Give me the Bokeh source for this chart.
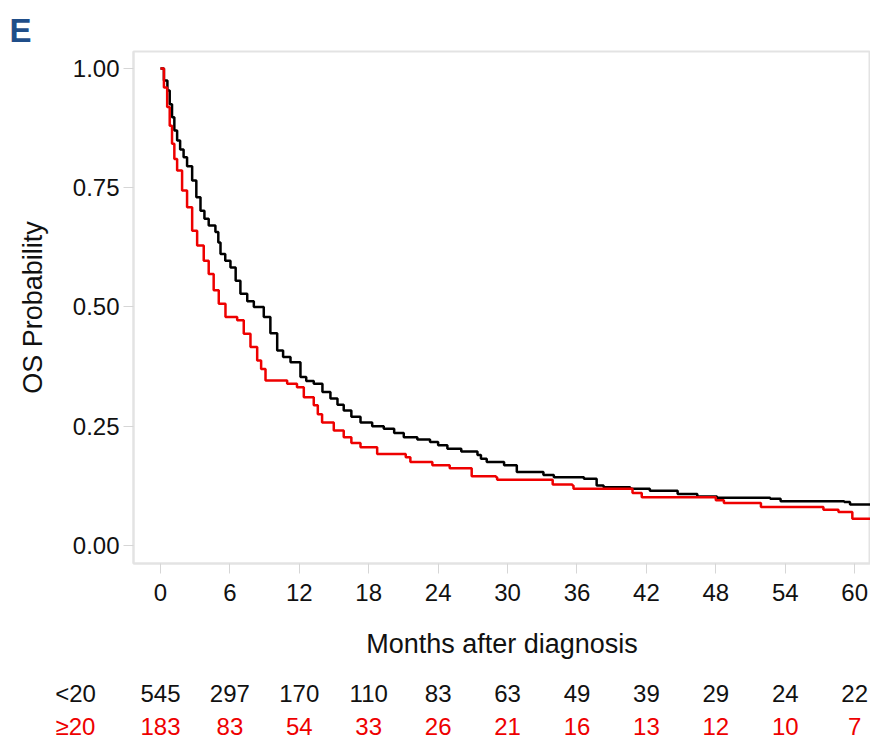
from bokeh.plotting import figure
from bokeh.layouts import column, row
from bokeh.models import Range1d, FixedTicker, NumeralTickFormatter
from bokeh.core.properties import value
from bokeh.embed import file_html
from bokeh.resources import INLINE

FONT = "Liberation Sans"

# ---- data ----
black_t = [0, 0.3, 0.6, 0.8, 1.0, 1.2, 1.44, 1.7, 2.0, 2.3, 2.74, 3.1, 3.46, 3.8, 4.17,
           4.75, 5.0, 5.19, 5.6, 6.05, 6.5, 6.91, 7.5, 8.07, 8.93, 9.5, 10.09, 10.6, 11.24,
           12.1, 12.6, 13.25, 14.0, 14.69, 15.3, 15.84, 16.5, 17.29, 18.3, 19.3, 20.2, 21.03,
           22.2, 23.3, 24.0, 24.8, 26.0, 27.4, 27.7, 28.2, 29.7, 30.8, 33.1, 34.0, 36.6, 37.7,
           38.3, 40.6, 42.3, 44.7, 46.4, 48.1, 52.7, 53.6, 59.1, 59.6, 61.4]
black_s = [1.0, 0.975, 0.954, 0.925, 0.898, 0.87, 0.849, 0.83, 0.814, 0.795, 0.765, 0.73,
           0.702, 0.685, 0.671, 0.657, 0.635, 0.611, 0.597, 0.583, 0.555, 0.528, 0.512, 0.50,
           0.479, 0.445, 0.409, 0.395, 0.384, 0.353, 0.345, 0.339, 0.322, 0.308, 0.295, 0.283,
           0.27, 0.258, 0.25, 0.245, 0.236, 0.227, 0.222, 0.217, 0.21, 0.203, 0.197, 0.19,
           0.182, 0.175, 0.168, 0.154, 0.148, 0.143, 0.140, 0.126, 0.122, 0.119, 0.115, 0.108,
           0.103, 0.100, 0.098, 0.093, 0.091, 0.086, 0.086]

red_t = [0, 0.3, 0.58, 0.8, 1.0, 1.2, 1.44, 1.87, 2.3, 2.74, 3.17, 3.74, 4.17, 4.6, 5.04,
         5.62, 6.63, 7.2, 7.78, 8.36, 8.7, 9.08, 10.95, 11.8, 12.39, 13.25, 13.6, 13.97,
         14.98, 15.84, 16.5, 17.29, 18.73, 21.2, 21.6, 23.5, 25.0, 26.9, 29.0, 29.1, 33.9,
         35.6, 35.7, 40.8, 41.6, 48.0, 48.7, 51.9, 57.3, 58.6, 59.8, 61.4]
red_s = [1.0, 0.96, 0.919, 0.88, 0.842, 0.81, 0.786, 0.744, 0.709, 0.66, 0.629, 0.597,
         0.569, 0.535, 0.507, 0.479, 0.472, 0.444, 0.416, 0.388, 0.37, 0.346, 0.339, 0.332,
         0.311, 0.294, 0.275, 0.258, 0.241, 0.227, 0.215, 0.206, 0.192, 0.185, 0.175, 0.168,
         0.162, 0.145, 0.143, 0.138, 0.128, 0.126, 0.119, 0.110, 0.101, 0.095, 0.089, 0.081,
         0.075, 0.070, 0.056, 0.056]

months = [0, 6, 12, 18, 24, 30, 36, 42, 48, 54, 60]
y_ticks = [0.0, 0.25, 0.5, 0.75, 1.0]
group_labels = ["<20", "\u226520"]
group_rows = [0, 1]
risk_lt20 = [545, 297, 170, 110, 83, 63, 49, 39, 29, 24, 22]
risk_ge20 = [183, 83, 54, 33, 26, 21, 16, 13, 12, 10, 7]

# ---- layout constants ----
W = 870
LEFT = 133
X_START, X_END = -2.33, 61.37
Y_START, Y_END = -0.0377, 1.0356
BLACK = "#000000"
RED = "#ee0000"
TXT = "#111111"
GRAYLINE = "#e3e3e3"
TABLE_H = 80
TABLE_Y = Range1d(1.545, -0.879)

x_range = Range1d(X_START, X_END)

p = figure(width=W, height=664, x_range=x_range,
           y_range=Range1d(Y_START, Y_END), output_backend="svg",
           toolbar_location=None, min_border_left=LEFT, min_border_right=0,
           min_border_top=51, min_border_bottom=101)
p.background_fill_color = "white"
p.border_fill_color = "white"
p.outline_line_color = GRAYLINE
p.outline_line_width = 2
p.xgrid.visible = False
p.ygrid.visible = False

p.title.text = "E"
p.title.text_font = FONT
p.title.text_font_size = "33px"
p.title.text_font_style = "bold"
p.title.text_color = "#1f4e89"
p.title.align = "left"
p.title.offset = -124
p.title.standoff = 6

for ax in (p.xaxis[0], p.yaxis[0]):
    ax.axis_line_color = GRAYLINE
    ax.axis_line_width = 2
    ax.major_tick_line_color = "#d6d6d6"
    ax.major_tick_line_width = 1
    ax.major_tick_in = 0
    ax.major_tick_out = 10
    ax.minor_tick_line_color = None
    ax.major_label_text_font = FONT
    ax.major_label_text_font_size = "24px"
    ax.major_label_text_color = TXT
    ax.axis_label_text_font = FONT
    ax.axis_label_text_font_size = "27px"
    ax.axis_label_text_font_style = "normal"
    ax.axis_label_text_color = TXT

p.xaxis.ticker = FixedTicker(ticks=months)
p.xaxis.axis_label = "Months after diagnosis"
p.xaxis.major_label_standoff = 10
p.xaxis.axis_label_standoff = 25

p.yaxis.ticker = FixedTicker(ticks=y_ticks)
p.yaxis.formatter = NumeralTickFormatter(format="0.00")
p.yaxis.axis_label = "OS Probability"
p.yaxis.major_label_standoff = 4
p.yaxis.axis_label_standoff = 22

p.step(black_t, black_s, mode="after", line_color=BLACK, line_width=2.5)
p.step(red_t, red_s, mode="after", line_color=RED, line_width=2.5)


def bare(fig):
    fig.grid.visible = False
    fig.outline_line_color = None
    fig.background_fill_color = "white"
    fig.border_fill_color = "white"
    return fig


# ---- row labels of the number-at-risk table ----
lab = bare(figure(width=LEFT, height=TABLE_H, x_range=Range1d(0, LEFT), y_range=TABLE_Y,
                  output_backend="svg", toolbar_location=None, min_border=0,
                  x_axis_location=None, y_axis_location=None))
lab.text(x=[75, 75], y=group_rows, text=group_labels, text_align="center",
         text_baseline="middle", text_color=[TXT, RED],
         text_font=value(FONT), text_font_size="24px")

# ---- number-at-risk values, sharing the horizontal scale ----
t = bare(figure(width=W - LEFT, height=TABLE_H, x_range=x_range, y_range=TABLE_Y,
                output_backend="svg", toolbar_location=None, min_border=0,
                x_axis_location=None, y_axis_location=None))
t.text(x=months, y=[group_rows[0]] * len(months), text=[str(v) for v in risk_lt20],
       text_align="center", text_baseline="middle", text_color=TXT,
       text_font=value(FONT), text_font_size="24px")
t.text(x=months, y=[group_rows[1]] * len(months), text=[str(v) for v in risk_ge20],
       text_align="center", text_baseline="middle", text_color=RED,
       text_font=value(FONT), text_font_size="24px")

layout = column(p, row(lab, t, spacing=0), spacing=0)
open("out.html", "w").write(file_html(layout, INLINE))
